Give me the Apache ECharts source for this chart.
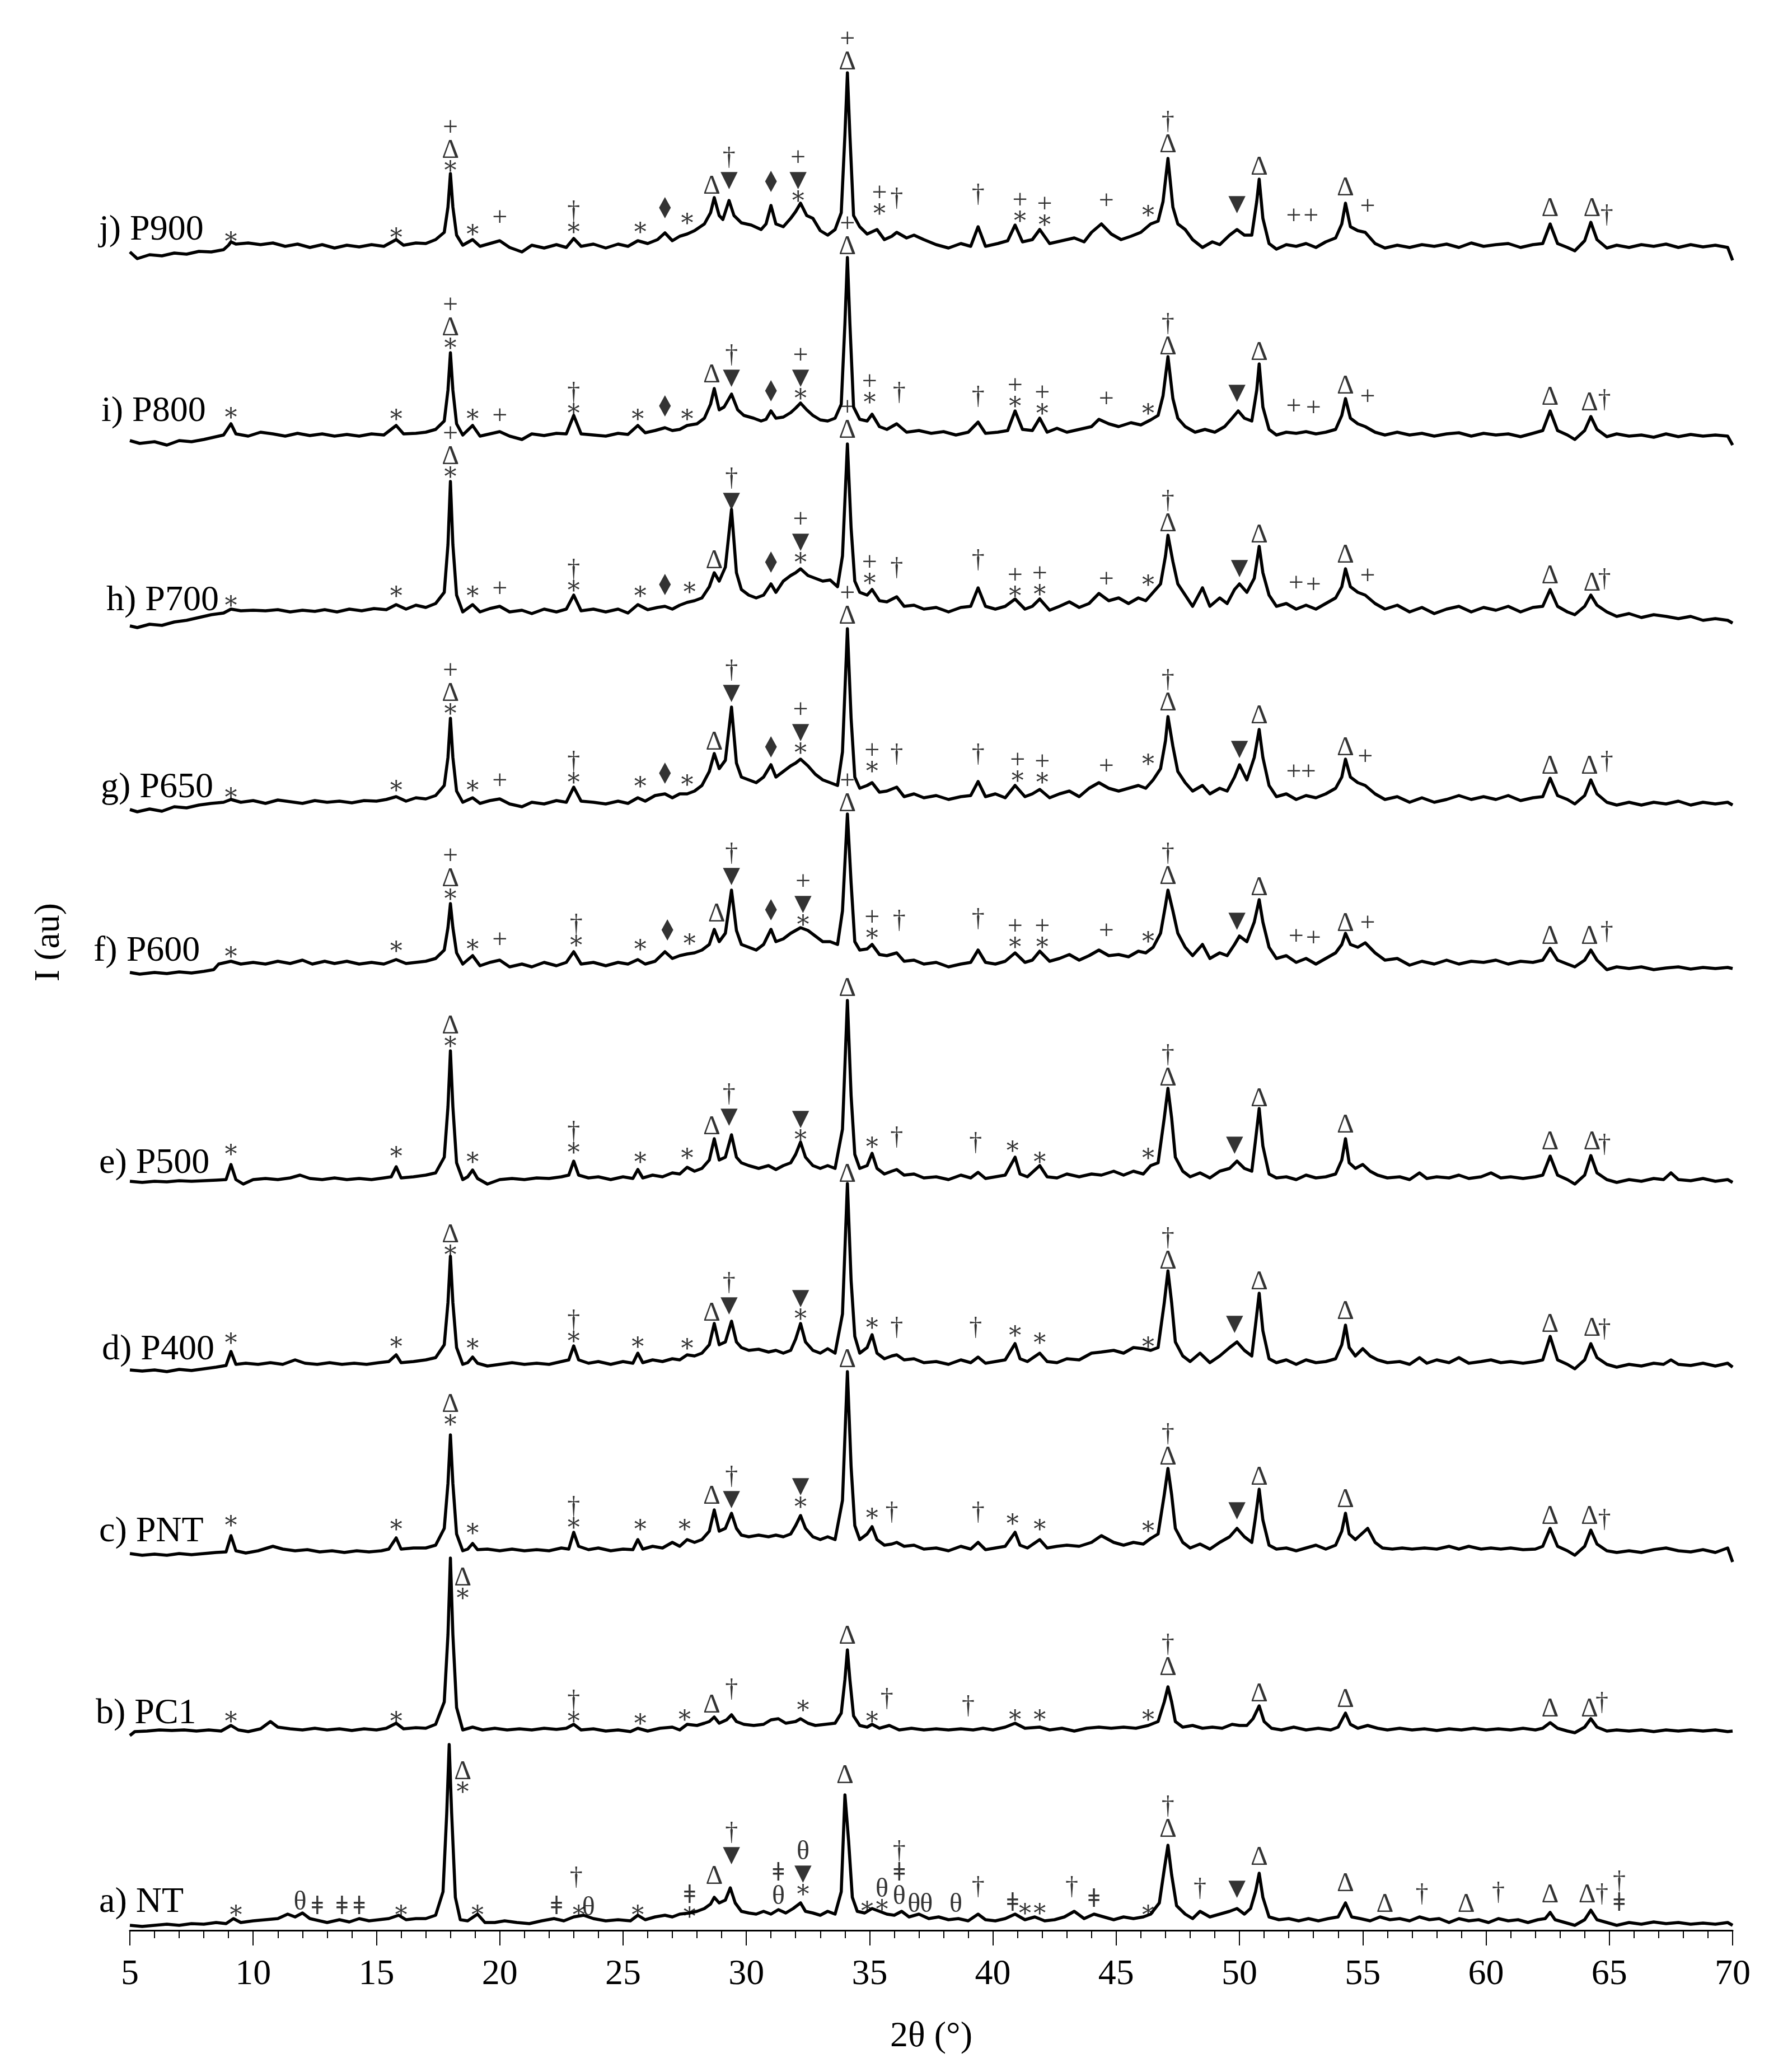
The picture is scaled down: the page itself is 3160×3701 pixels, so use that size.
<!DOCTYPE html>
<html><head><meta charset="utf-8">
<script src="https://cdn.jsdelivr.net/npm/echarts@6/dist/echarts.min.js"></script>
<style>html,body{margin:0;padding:0;background:#fff}#c{width:3160px;height:3701px}</style>
</head><body><div id="c"></div>
<script>
// ---- sample names (bottom to top) and vertical stacking offsets (arbitrary units) ----
const sampleNames = ['a) NT','b) PC1','c) PNT','d) P400','e) P500','f) P600','g) P650','h) P700','i) P800','j) P900'];
const stackOffsets = [9, 358, 678, 1011, 1341, 1721, 2015, 2355, 2671, 3008];
const xTickValues = [5,10,15,20,25,30,35,40,45,50,55,60,65,70];

// ---- diffractograms: flat [2theta, intensity(au)] pairs ----
const patNT = [5.0,0,5.5,-2,6.0,0,6.5,2,7.0,0,7.5,3,8.0,2,8.5,5,8.9,3,9.2,12,9.5,5,10.0,8,10.5,10,11.0,12,11.4,20,11.7,15,12.0,22,12.3,12,12.7,8,13.0,5,13.5,10,13.9,6,14.3,12,14.7,8,15.1,10,15.5,12,15.9,18,16.2,10,16.6,12,17.0,12,17.4,18,17.7,60,17.85,200,17.95,323,18.05,200,18.2,50,18.4,10,18.7,8,19.1,20,19.4,5,19.8,5,20.2,8,20.7,5,21.2,3,21.7,8,22.2,12,22.6,8,23.0,15,23.4,18,23.8,12,24.3,8,24.8,10,25.3,8,25.6,18,25.9,10,26.3,15,26.7,18,27.0,15,27.3,20,27.7,22,28.0,25,28.3,30,28.55,38,28.7,50,28.9,40,29.15,45,29.35,67,29.55,40,29.8,25,30.1,22,30.4,20,30.7,25,31.0,20,31.3,28,31.6,22,31.9,30,32.2,40,32.4,25,32.7,22,33.0,18,33.3,25,33.6,20,33.85,60,34.0,233,34.15,150,34.3,50,34.5,25,34.8,22,35.1,30,35.4,25,35.7,20,36.0,18,36.3,25,36.6,15,37.0,20,37.4,12,37.8,15,38.2,10,38.6,12,39.0,8,39.4,20,39.7,10,40.1,8,40.5,12,40.9,20,41.3,10,41.7,15,42.1,8,42.5,10,42.9,15,43.3,25,43.7,12,44.1,20,44.5,15,44.9,10,45.3,15,45.7,12,46.1,15,46.4,20,46.75,40,46.95,100,47.1,143,47.25,90,47.45,35,47.8,20,48.1,12,48.4,25,48.8,15,49.2,20,49.6,25,49.9,30,50.2,20,50.45,30,50.65,60,50.8,93,50.95,50,51.2,15,51.6,10,52.0,12,52.4,8,52.8,12,53.2,8,53.6,12,54.0,15,54.3,40,54.55,15,54.9,12,55.3,8,55.7,15,56.1,10,56.5,12,56.9,8,57.3,15,57.7,10,58.1,12,58.5,5,58.9,12,59.3,8,59.7,10,60.1,5,60.5,12,60.9,8,61.3,10,61.7,5,62.1,10,62.4,12,62.6,23,62.8,10,63.2,5,63.6,0,64.0,10,64.25,27,64.5,10,64.9,5,65.3,0,65.8,5,66.3,2,66.8,6,67.3,3,67.8,5,68.3,2,68.8,4,69.3,2,69.8,5,70.0,0];
const patPC1 = [5.0,-10,5.2,-3,5.7,-2,6.2,0,6.7,-1,7.2,0,7.7,-2,8.2,0,8.7,-2,9.1,8,9.4,0,9.8,-3,10.3,2,10.7,15,11.0,5,11.5,2,12.0,0,12.5,3,13.0,0,13.5,2,14.0,-1,14.5,2,15.0,0,15.4,3,15.8,12,16.1,2,16.6,4,17.0,3,17.4,10,17.75,50,17.9,170,18.0,307,18.1,170,18.25,40,18.5,0,18.9,5,19.3,0,19.8,3,20.3,0,20.8,2,21.3,0,21.8,3,22.3,1,22.7,3,23.0,10,23.3,0,23.8,2,24.3,-2,24.8,0,25.3,-3,25.6,3,26.0,-2,26.5,3,27.0,5,27.3,0,27.6,10,28.0,8,28.3,12,28.5,15,28.7,23,28.9,12,29.2,18,29.4,27,29.6,15,29.9,10,30.3,8,30.7,10,31.0,18,31.3,20,31.6,12,32.0,15,32.2,20,32.5,12,32.8,8,33.2,10,33.6,12,33.85,30,34.0,90,34.1,143,34.2,90,34.35,25,34.6,8,34.9,5,35.1,10,35.4,3,35.8,8,36.2,0,36.7,3,37.2,0,37.7,2,38.2,0,38.7,2,39.2,0,39.6,3,40.0,0,40.5,5,40.9,12,41.3,3,41.9,5,42.3,0,42.8,3,43.3,-2,43.8,3,44.3,5,44.8,3,45.3,5,45.8,3,46.3,8,46.7,15,46.95,50,47.1,77,47.25,50,47.4,15,47.7,5,48.1,8,48.5,3,48.9,5,49.3,3,49.7,10,50.0,8,50.3,8,50.55,20,50.8,43,51.0,15,51.3,3,51.7,0,52.2,5,52.7,0,53.2,3,53.7,0,54.0,5,54.3,30,54.5,10,54.8,3,55.2,8,55.6,3,56.0,0,56.5,3,57.0,0,57.5,2,58.0,-1,58.5,2,59.0,0,59.5,3,60.0,0,60.5,2,61.0,0,61.5,3,62.0,0,62.3,3,62.6,13,62.9,3,63.3,-2,63.6,-5,64.0,5,64.25,20,64.5,5,64.9,-2,65.3,0,65.8,-2,66.3,0,66.8,-3,67.3,0,67.8,-2,68.3,0,68.8,-2,69.3,0,69.8,-3,70.0,-2];
const patPNT = [5.0,-5,5.5,-8,6.0,-6,6.5,-8,7.0,-5,7.5,-7,8.0,-5,8.5,-3,8.9,-2,9.1,27,9.3,0,9.7,-4,10.2,0,10.8,8,11.2,3,11.7,0,12.2,2,12.7,-2,13.2,0,13.7,-3,14.2,0,14.7,-2,15.2,0,15.5,3,15.8,23,16.0,3,16.5,5,17.0,5,17.4,10,17.75,40,17.9,120,18.0,207,18.1,120,18.25,30,18.5,0,18.7,3,18.9,13,19.1,2,19.5,3,20.0,0,20.5,3,21.0,0,21.5,2,22.0,0,22.5,5,22.8,3,23.0,33,23.2,8,23.6,2,24.0,5,24.5,0,25.0,3,25.4,2,25.6,20,25.8,3,26.2,8,26.6,5,27.0,15,27.3,8,27.6,20,27.9,15,28.2,20,28.5,35,28.7,73,28.9,35,29.15,40,29.4,67,29.6,40,29.8,28,30.1,25,30.5,28,30.9,25,31.2,28,31.5,25,31.8,30,32.0,45,32.2,63,32.4,40,32.7,25,33.0,20,33.3,25,33.6,20,33.9,90,34.1,320,34.25,150,34.4,45,34.6,20,34.9,30,35.1,43,35.3,20,35.6,10,35.9,12,36.1,15,36.4,8,36.8,10,37.2,3,37.7,5,38.2,0,38.7,8,39.1,3,39.4,15,39.7,2,40.1,5,40.5,8,40.9,33,41.1,10,41.4,5,41.9,20,42.2,5,42.6,8,43.0,10,43.5,8,44.0,15,44.4,27,44.9,15,45.3,10,45.7,15,46.1,12,46.4,22,46.7,30,46.95,100,47.1,147,47.25,100,47.4,40,47.7,15,48.0,5,48.4,12,48.8,3,49.2,15,49.6,25,49.9,40,50.2,25,50.5,15,50.65,60,50.8,110,50.95,55,51.2,10,51.5,3,51.9,5,52.3,0,52.7,5,53.1,10,53.5,3,53.9,10,54.15,35,54.3,67,54.45,30,54.7,20,55.2,40,55.5,15,55.8,5,56.2,3,56.6,5,57.0,3,57.5,5,58.0,3,58.5,8,58.9,3,59.3,8,59.8,3,60.2,5,60.6,3,61.0,5,61.5,2,62.0,3,62.3,8,62.6,40,62.9,8,63.3,0,63.6,-8,64.0,8,64.25,37,64.5,12,64.9,0,65.3,-3,65.8,0,66.3,-3,66.8,2,67.3,5,67.8,0,68.3,-2,68.8,2,69.3,-3,69.8,5,70.0,-20];
const patP400 = [5.0,-10,5.5,-12,6.0,-10,6.5,-13,7.0,-9,7.5,-11,8.0,-8,8.5,-5,8.9,-2,9.1,23,9.3,0,9.7,2,10.2,0,10.7,3,11.2,0,11.7,8,12.1,2,12.6,0,13.1,3,13.6,0,14.1,2,14.6,0,15.1,3,15.5,5,15.8,17,16.0,3,16.5,5,17.0,8,17.4,12,17.75,35,17.9,110,18.0,193,18.1,110,18.25,30,18.5,0,18.7,3,18.9,13,19.1,2,19.5,-3,20.0,0,20.5,3,21.0,0,21.5,2,22.0,0,22.5,5,22.8,8,23.0,33,23.2,8,23.6,2,24.0,5,24.5,0,25.0,5,25.4,2,25.6,20,25.8,3,26.2,8,26.6,5,27.0,10,27.3,8,27.6,17,27.9,15,28.2,20,28.5,35,28.7,73,28.9,35,29.15,40,29.4,77,29.6,40,29.8,30,30.1,25,30.5,27,30.9,22,31.2,25,31.5,20,31.8,25,32.0,45,32.2,73,32.4,40,32.7,25,33.0,20,33.3,28,33.6,20,33.9,90,34.1,323,34.25,150,34.4,50,34.6,20,34.9,30,35.1,53,35.3,20,35.6,10,35.9,15,36.1,17,36.4,8,36.8,10,37.2,3,37.7,5,38.2,0,38.7,8,39.1,3,39.4,13,39.7,2,40.1,5,40.5,8,40.9,37,41.1,10,41.4,5,41.9,20,42.2,5,42.6,3,43.0,10,43.5,8,44.0,20,44.4,22,44.9,25,45.3,20,45.7,30,46.1,28,46.4,25,46.7,30,46.95,110,47.1,167,47.25,110,47.4,40,47.7,15,48.0,5,48.4,20,48.8,3,49.2,15,49.6,30,49.9,40,50.2,25,50.5,15,50.65,70,50.8,127,50.95,60,51.2,10,51.5,3,51.9,8,52.3,0,52.7,8,53.1,3,53.5,5,53.9,10,54.15,35,54.3,70,54.45,30,54.7,15,55.0,28,55.3,15,55.6,8,56.0,3,56.5,5,56.9,0,57.3,12,57.6,2,58.0,8,58.5,3,58.9,12,59.3,2,59.8,5,60.2,8,60.6,3,61.0,5,61.5,2,62.0,5,62.3,8,62.6,50,62.9,8,63.3,0,63.6,-8,64.0,8,64.25,37,64.5,12,64.9,0,65.3,-5,65.8,0,66.3,-3,66.8,2,67.2,0,67.5,8,67.8,0,68.3,-2,68.8,2,69.3,-3,69.8,2,70.0,-5];
const patP500 = [5.0,-3,5.5,-5,6.0,-3,6.5,-4,7.0,-2,7.5,-3,8.0,-2,8.5,-1,8.9,0,9.1,27,9.3,0,9.6,-8,10.0,0,10.5,2,11.0,0,11.5,3,11.9,8,12.3,2,12.8,0,13.3,3,13.8,0,14.3,2,14.8,0,15.3,3,15.6,5,15.8,23,16.0,3,16.5,5,17.0,8,17.4,12,17.75,40,17.9,130,18.0,230,18.1,130,18.25,30,18.5,0,18.7,5,18.9,17,19.1,2,19.5,-8,20.0,0,20.5,2,21.0,0,21.5,3,22.0,2,22.5,5,22.8,8,23.0,33,23.2,8,23.6,3,24.0,5,24.5,0,25.0,5,25.4,2,25.6,18,25.8,3,26.2,8,26.6,5,27.0,12,27.3,10,27.6,22,27.9,15,28.2,20,28.5,35,28.7,73,28.9,35,29.15,40,29.4,80,29.6,40,29.8,30,30.1,25,30.5,20,30.9,25,31.2,18,31.5,25,31.8,30,32.0,45,32.2,67,32.4,40,32.7,25,33.0,20,33.3,25,33.6,20,33.9,90,34.1,320,34.25,150,34.4,45,34.6,20,34.9,25,35.1,47,35.3,20,35.6,10,35.9,15,36.1,18,36.4,8,36.8,10,37.2,3,37.7,5,38.2,0,38.7,8,39.1,3,39.4,13,39.7,2,40.1,5,40.5,8,40.9,40,41.1,10,41.4,5,41.9,25,42.2,5,42.6,3,43.0,10,43.5,5,44.0,10,44.4,8,44.9,15,45.3,8,45.7,15,46.1,10,46.4,25,46.7,30,46.95,110,47.1,163,47.25,110,47.4,40,47.7,15,48.0,5,48.4,12,48.8,3,49.2,15,49.6,20,49.9,33,50.2,20,50.5,15,50.65,70,50.8,127,50.95,60,51.2,10,51.5,3,51.9,5,52.3,0,52.7,8,53.1,3,53.5,5,53.9,10,54.15,35,54.3,73,54.45,30,54.7,20,55.0,27,55.3,15,55.6,8,56.0,3,56.5,5,56.9,0,57.3,12,57.6,2,58.0,5,58.5,3,58.9,8,59.3,2,59.8,5,60.2,12,60.6,3,61.0,5,61.5,2,62.0,5,62.3,8,62.6,42,62.9,8,63.3,0,63.6,-8,64.0,8,64.25,43,64.5,12,64.9,0,65.3,-5,65.8,0,66.3,-3,66.8,2,67.2,0,67.5,12,67.8,0,68.3,-2,68.8,2,69.3,-3,69.8,0,70.0,-5];
const patP600 = [5.0,-10,5.4,-13,6.0,-10,6.5,-12,7.0,-9,7.5,-11,8.0,-8,8.4,-5,8.6,5,9.1,10,9.5,5,10.0,8,10.5,5,11.0,10,11.5,6,12.0,12,12.4,5,12.9,10,13.3,6,13.8,10,14.3,5,14.8,8,15.3,5,15.8,13,16.2,6,16.6,8,17.0,10,17.4,15,17.75,30,17.9,70,18.0,113,18.1,70,18.25,25,18.5,5,18.9,20,19.2,2,19.6,8,20.0,12,20.4,0,20.9,5,21.3,0,21.8,8,22.3,2,22.7,8,23.0,27,23.3,5,23.8,8,24.3,2,24.8,8,25.2,5,25.6,13,25.9,5,26.3,10,26.7,27,27.0,15,27.3,20,27.6,23,27.9,25,28.2,30,28.5,40,28.7,67,28.9,45,29.15,60,29.4,137,29.6,65,29.8,40,30.1,35,30.4,30,30.7,40,31.0,67,31.2,45,31.5,50,31.8,60,32.0,65,32.2,70,32.5,65,32.8,55,33.1,45,33.4,45,33.7,40,33.9,100,34.1,273,34.25,150,34.4,45,34.6,30,34.9,32,35.1,40,35.4,22,35.7,20,36.1,25,36.4,10,36.8,12,37.2,5,37.7,8,38.2,0,38.7,5,39.1,8,39.4,30,39.7,8,40.1,5,40.5,10,40.9,25,41.3,8,41.6,12,41.9,28,42.3,10,42.7,15,43.1,22,43.5,12,43.9,20,44.3,30,44.7,20,45.1,22,45.5,18,45.9,28,46.2,25,46.5,35,46.8,60,47.0,110,47.1,137,47.3,100,47.5,60,47.8,35,48.1,20,48.5,40,48.8,15,49.2,25,49.5,20,49.8,40,50.0,55,50.3,45,50.6,80,50.8,120,50.95,80,51.2,35,51.5,15,51.9,20,52.3,8,52.7,15,53.1,5,53.5,15,53.9,25,54.15,40,54.3,60,54.5,40,54.8,35,55.1,43,55.5,25,55.9,12,56.4,15,56.9,3,57.4,10,57.9,5,58.4,12,58.9,5,59.4,10,59.9,8,60.4,12,60.9,5,61.4,10,61.9,8,62.3,12,62.6,33,62.9,12,63.3,5,63.6,0,64.0,12,64.25,30,64.5,12,64.9,-5,65.3,0,65.8,-3,66.3,0,66.8,-5,67.3,-2,67.8,0,68.3,-4,68.8,-1,69.3,-3,69.8,-1,70.0,-3];
const patP650 = [5.0,-13,5.3,-17,5.8,-12,6.3,-16,6.8,-8,7.3,-10,7.8,-5,8.3,-2,8.8,0,9.1,5,9.5,0,10.0,3,10.5,-2,11.0,4,11.5,1,12.0,-2,12.5,3,13.0,0,13.5,2,14.0,-1,14.5,3,15.0,2,15.4,5,15.8,10,16.2,2,16.6,8,17.0,6,17.4,12,17.75,30,17.9,80,18.0,150,18.1,80,18.25,20,18.5,0,18.9,8,19.2,-2,19.6,3,20.0,6,20.4,-3,20.9,-8,21.3,0,21.8,-3,22.3,3,22.7,0,23.0,27,23.3,2,23.8,0,24.3,-3,24.8,2,25.2,-2,25.6,8,25.9,2,26.3,12,26.7,15,27.0,8,27.3,15,27.6,15,27.9,20,28.2,30,28.5,55,28.7,87,28.9,60,29.15,75,29.4,170,29.6,70,29.8,45,30.1,40,30.4,35,30.7,45,31.0,67,31.2,45,31.5,55,31.8,65,32.0,70,32.2,77,32.5,65,32.8,50,33.1,40,33.4,35,33.7,30,33.9,90,34.1,310,34.25,150,34.4,45,34.6,25,34.9,30,35.1,35,35.4,18,35.7,20,36.1,27,36.4,10,36.8,15,37.2,8,37.7,12,38.2,5,38.7,10,39.1,12,39.4,37,39.7,10,40.1,15,40.5,8,40.9,30,41.3,10,41.6,15,41.9,23,42.3,8,42.7,15,43.1,20,43.5,10,43.9,25,44.3,35,44.7,25,45.1,20,45.5,25,45.9,30,46.2,25,46.5,40,46.8,60,47.0,110,47.1,153,47.3,100,47.5,55,47.8,35,48.1,20,48.5,30,48.8,15,49.2,25,49.5,20,49.8,45,50.0,67,50.3,40,50.6,80,50.8,130,50.95,80,51.2,30,51.5,10,51.9,15,52.3,5,52.7,12,53.1,8,53.5,15,53.9,25,54.15,45,54.3,77,54.5,45,54.8,35,55.1,30,55.5,15,55.9,5,56.4,10,56.9,0,57.4,8,57.9,0,58.4,5,58.9,12,59.4,5,59.9,10,60.4,5,60.9,12,61.4,3,61.9,8,62.3,10,62.6,43,62.9,12,63.3,5,63.6,-3,64.0,12,64.25,40,64.5,15,64.9,0,65.3,-5,65.8,0,66.3,-5,66.8,0,67.3,-3,67.8,2,68.3,-5,68.8,0,69.3,-3,69.8,0,70.0,-5];
const patP700 = [5.0,-25,5.3,-28,5.8,-22,6.3,-24,6.8,-18,7.3,-15,7.8,-10,8.3,-5,8.8,-2,9.1,5,9.5,2,10.0,3,10.5,2,11.0,4,11.5,0,12.0,3,12.5,1,12.9,4,13.4,0,13.9,5,14.4,2,14.9,6,15.4,4,15.8,13,16.2,5,16.6,12,17.0,8,17.4,15,17.75,35,17.9,120,18.0,233,18.1,120,18.25,30,18.5,0,18.9,13,19.2,0,19.6,6,20.0,10,20.4,0,20.9,3,21.3,-3,21.8,5,22.3,0,22.7,5,23.0,30,23.3,2,23.8,5,24.3,0,24.8,5,25.2,-2,25.6,13,26.0,4,26.4,8,26.7,10,27.0,5,27.3,12,27.6,17,27.9,20,28.2,25,28.5,45,28.7,70,28.9,55,29.15,80,29.4,183,29.6,70,29.8,40,30.1,30,30.4,25,30.7,30,31.0,50,31.2,35,31.5,55,31.8,65,32.0,70,32.2,77,32.5,65,32.8,60,33.1,55,33.4,57,33.7,45,33.9,100,34.1,300,34.25,150,34.4,55,34.6,35,34.9,30,35.1,40,35.4,20,35.7,18,36.1,27,36.4,10,36.8,12,37.2,5,37.7,8,38.2,0,38.7,8,39.1,10,39.4,43,39.7,10,40.1,5,40.5,10,40.9,23,41.3,5,41.6,10,41.9,23,42.3,3,42.7,10,43.1,18,43.5,8,43.9,15,44.3,33,44.7,20,45.1,25,45.5,15,45.9,25,46.2,20,46.5,35,46.8,50,47.0,100,47.1,137,47.3,90,47.5,50,47.8,30,48.1,10,48.5,43,48.8,10,49.2,25,49.5,15,49.8,40,50.0,50,50.3,35,50.6,60,50.8,117,50.95,70,51.2,30,51.5,10,51.9,15,52.3,5,52.7,12,53.1,5,53.5,15,53.9,25,54.15,45,54.3,77,54.5,45,54.8,35,55.1,30,55.5,15,55.9,5,56.4,12,56.9,0,57.4,8,57.9,-3,58.4,5,58.9,10,59.4,0,59.9,8,60.4,3,60.9,10,61.4,0,61.9,8,62.3,10,62.6,40,62.9,10,63.3,0,63.6,-5,64.0,10,64.25,30,64.5,12,64.9,0,65.3,-8,65.8,-3,66.3,-10,66.8,-5,67.3,-8,67.8,-12,68.3,-8,68.8,-15,69.3,-12,69.8,-15,70.0,-20];
const patP800 = [5.0,-10,5.4,-15,6.0,-12,6.5,-18,7.0,-10,7.5,-12,8.0,-8,8.5,-3,8.8,0,9.1,20,9.3,2,9.8,-2,10.3,5,10.8,2,11.3,-2,11.8,3,12.3,-1,12.8,2,13.3,-2,13.8,1,14.3,-2,14.8,2,15.3,0,15.8,17,16.1,2,16.6,3,17.0,5,17.4,10,17.75,25,17.9,80,18.0,147,18.1,80,18.25,20,18.5,0,18.9,17,19.2,-2,19.6,2,20.0,6,20.4,-2,20.9,-8,21.3,2,21.8,-1,22.3,3,22.7,2,23.0,35,23.3,2,23.8,0,24.3,-2,24.8,3,25.2,1,25.6,17,25.9,4,26.3,8,26.7,13,27.0,8,27.3,10,27.6,17,28.0,20,28.3,30,28.55,55,28.7,83,28.9,45,29.1,50,29.4,73,29.65,45,29.9,35,30.3,30,30.6,25,30.8,28,31.0,43,31.2,30,31.5,32,31.8,40,32.0,48,32.2,57,32.45,45,32.7,35,33.0,27,33.3,25,33.6,30,33.85,55,34.0,200,34.1,317,34.2,200,34.35,50,34.6,28,34.9,25,35.1,37,35.4,15,35.7,10,36.1,20,36.5,5,37.0,8,37.5,3,38.0,6,38.5,0,39.0,5,39.4,23,39.7,3,40.2,5,40.6,8,40.9,43,41.2,10,41.6,8,41.9,30,42.2,5,42.6,12,43.0,5,43.5,10,44.0,15,44.3,28,44.7,20,45.1,15,45.6,22,46.0,18,46.4,27,46.7,35,46.9,70,47.1,140,47.3,65,47.5,30,47.8,15,48.2,5,48.6,10,49.0,5,49.4,15,49.7,30,49.95,43,50.2,30,50.5,25,50.7,80,50.8,127,50.95,50,51.2,10,51.5,0,51.9,5,52.3,3,52.7,6,53.1,2,53.5,5,53.9,10,54.15,35,54.3,65,54.5,30,54.8,20,55.1,15,55.5,5,55.9,0,56.4,5,56.9,0,57.4,3,57.9,-2,58.4,2,58.9,4,59.4,-2,59.9,3,60.4,0,60.9,2,61.4,-3,61.9,3,62.3,8,62.6,43,62.9,8,63.3,0,63.6,-8,64.0,8,64.25,33,64.5,10,64.9,-3,65.3,2,65.8,-2,66.3,0,66.8,-4,67.3,2,67.8,-3,68.3,1,68.8,-2,69.3,0,69.8,-2,70.0,-18];
const patP900 = [5.0,-10,5.3,-22,5.8,-15,6.3,-17,6.8,-12,7.3,-14,7.8,-9,8.3,-10,8.8,-6,9.0,2,9.1,8,9.3,4,9.8,6,10.3,3,10.8,6,11.3,0,11.8,4,12.3,-2,12.8,3,13.3,-3,13.8,2,14.3,-1,14.8,3,15.3,0,15.8,12,16.1,2,16.6,6,17.0,5,17.4,12,17.75,25,17.9,70,18.0,130,18.1,70,18.25,20,18.5,2,18.9,12,19.2,0,19.6,5,20.0,10,20.4,-2,20.9,-10,21.3,2,21.8,-3,22.3,3,22.7,-2,23.0,14,23.3,0,23.8,4,24.3,-3,24.8,4,25.2,0,25.6,10,26.0,5,26.4,12,26.7,24,27.0,10,27.3,18,27.6,22,27.9,28,28.3,40,28.55,60,28.7,87,28.9,55,29.05,48,29.3,82,29.5,55,29.8,42,30.2,38,30.6,30,30.8,40,31.0,73,31.2,40,31.5,35,31.8,50,32.0,62,32.2,77,32.45,55,32.7,50,33.0,28,33.3,20,33.6,30,33.85,60,34.0,200,34.1,310,34.2,200,34.35,55,34.6,35,34.9,22,35.3,30,35.6,12,35.9,18,36.1,25,36.5,15,36.8,20,37.2,12,37.7,3,38.2,-3,38.7,5,39.1,0,39.4,35,39.7,0,40.2,5,40.6,10,40.9,38,41.2,8,41.6,12,41.9,30,42.3,5,42.8,10,43.3,15,43.7,8,44.0,25,44.4,40,44.8,22,45.2,12,45.6,18,46.0,25,46.4,40,46.7,45,46.9,80,47.1,157,47.3,70,47.5,40,47.8,30,48.1,12,48.5,-2,48.9,8,49.2,3,49.6,20,49.9,30,50.2,20,50.5,20,50.7,80,50.8,120,50.95,50,51.2,5,51.5,-5,51.9,3,52.3,0,52.7,5,53.1,-2,53.5,8,53.9,15,54.15,40,54.3,77,54.5,35,54.8,28,55.1,25,55.5,5,55.9,-3,56.4,2,56.9,-2,57.4,3,57.9,0,58.4,4,58.9,-2,59.4,6,59.9,0,60.4,3,60.9,5,61.4,-2,61.9,3,62.3,5,62.6,40,62.9,5,63.3,-2,63.6,-8,64.0,10,64.25,43,64.5,12,64.9,-3,65.3,2,65.8,-2,66.3,3,66.8,0,67.3,4,67.8,-2,68.3,3,68.8,-1,69.3,2,69.8,-2,70.0,-25];

// ---- phase markers: [2theta, level above trace (au), symbols stacked top->bottom] ----
const annNT = [[9.3,20,'*'],[11.9,27,'θ'],[12.6,17,'ǂ'],[13.6,17,'ǂ'],[14.3,17,'ǂ'],[16.0,20,'*'],[18.5,240,'Δ\n*'],[19.1,20,'*'],[22.3,17,'ǂ'],[23.1,70,'†'],[23.2,20,'*'],[23.6,17,'θ'],[25.6,20,'*'],[27.7,17,'ǂ\n*'],[28.7,73,'Δ'],[29.4,110,'†\n▼'],[31.3,37,'ǂ\nθ'],[32.3,57,'θ\n▼\n*'],[34.0,253,'Δ'],[34.9,27,'*'],[35.5,30,'θ\n*'],[36.2,37,'†\nǂ\nθ'],[36.8,23,'θ'],[37.3,23,'θ'],[38.5,23,'θ'],[39.4,53,'†'],[40.8,23,'ǂ'],[41.3,23,'*'],[41.9,23,'*'],[43.2,53,'†'],[44.1,30,'ǂ'],[46.3,20,'*'],[47.1,157,'†\nΔ'],[48.4,50,'†'],[49.9,50,'▼'],[50.8,107,'Δ'],[54.3,60,'Δ'],[55.9,23,'Δ'],[57.4,40,'†'],[59.2,23,'Δ'],[60.5,43,'†'],[62.6,40,'Δ'],[64.1,40,'Δ'],[64.7,40,'†'],[65.4,23,'†\nǂ']];
const annPC1 = [[9.1,17,'*'],[15.8,17,'*'],[18.5,237,'Δ\n*'],[23.0,17,'†\n*'],[25.7,13,'*'],[27.5,20,'*'],[28.6,30,'Δ'],[29.4,57,'†'],[32.3,37,'*'],[34.1,153,'Δ'],[35.1,17,'*'],[35.7,40,'†'],[39.0,27,'†'],[40.9,20,'*'],[41.9,20,'*'],[46.3,20,'*'],[47.1,97,'†\nΔ'],[50.8,50,'Δ'],[54.3,40,'Δ'],[62.6,23,'Δ'],[64.2,23,'Δ'],[64.7,33,'†']];
const annPNT = [[9.1,47,'*'],[15.8,40,'*'],[18.0,227,'Δ\n*'],[18.9,33,'*'],[23.0,43,'†\n*'],[25.7,40,'*'],[27.5,40,'*'],[28.6,83,'Δ'],[29.4,77,'†\n▼'],[32.2,80,'▼\n*'],[34.1,327,'Δ'],[35.1,60,'*'],[35.9,53,'†'],[39.4,53,'†'],[40.8,50,'*'],[41.9,40,'*'],[46.3,37,'*'],[47.1,153,'†\nΔ'],[49.9,57,'▼'],[50.8,117,'Δ'],[54.3,77,'Δ'],[62.6,47,'Δ'],[64.2,47,'Δ'],[64.8,40,'†']];
const annP400 = [[9.1,40,'*'],[15.8,33,'*'],[18.0,197,'Δ\n*'],[18.9,30,'*'],[23.0,43,'†\n*'],[25.6,33,'*'],[27.6,30,'*'],[28.6,77,'Δ'],[29.3,90,'†\n▼'],[32.2,83,'▼\n*'],[34.1,325,'Δ'],[35.1,67,'*'],[36.1,50,'†'],[39.3,50,'†'],[40.9,53,'*'],[41.9,40,'*'],[46.3,33,'*'],[47.1,170,'†\nΔ'],[49.8,57,'▼'],[50.8,133,'Δ'],[54.3,80,'Δ'],[62.6,57,'Δ'],[64.3,50,'Δ'],[64.8,47,'†']];
const annP500 = [[9.1,47,'*'],[15.8,43,'*'],[18.0,240,'Δ\n*'],[18.9,33,'*'],[23.0,50,'†\n*'],[25.7,33,'*'],[27.6,40,'*'],[28.6,80,'Δ'],[29.3,97,'†\n▼'],[32.2,73,'▼\n*'],[34.1,327,'Δ'],[35.1,60,'*'],[36.1,60,'†'],[39.3,50,'†'],[40.8,53,'*'],[41.9,33,'*'],[46.3,40,'*'],[47.1,167,'†\nΔ'],[49.8,47,'▼'],[50.8,130,'Δ'],[54.3,83,'Δ'],[62.6,53,'Δ'],[64.3,53,'Δ'],[64.8,47,'†']];
const annP600 = [[9.1,20,'*'],[15.8,30,'*'],[18.0,123,'+\nΔ\n*'],[18.9,33,'*'],[20.0,37,'+'],[23.1,40,'†\n*'],[25.7,33,'*'],[26.8,47,'♦'],[27.7,43,'*'],[28.8,80,'Δ'],[29.4,147,'†\n▼'],[31.0,83,'♦'],[32.3,77,'+\n▼\n*'],[34.1,277,'+\nΔ'],[35.1,53,'+\n*'],[36.2,67,'†'],[39.4,70,'†'],[40.9,37,'+\n*'],[42.0,37,'+\n*'],[44.6,53,'+'],[46.3,47,'*'],[47.1,147,'†\nΔ'],[49.9,67,'▼'],[50.8,127,'Δ'],[52.3,43,'+'],[53.0,40,'+'],[54.3,63,'Δ'],[55.2,67,'+'],[62.6,40,'Δ'],[64.2,40,'Δ'],[64.9,47,'†']];
const annP650 = [[9.1,10,'*'],[15.8,23,'*'],[18.0,160,'+\nΔ\n*'],[18.9,23,'*'],[20.0,27,'+'],[23.0,37,'†\n*'],[25.7,30,'*'],[26.7,33,'♦'],[27.6,33,'*'],[28.7,93,'Δ'],[29.4,180,'†\n▼'],[31.0,80,'♦'],[32.2,90,'+\n▼\n*'],[34.1,318,'+\nΔ'],[35.1,57,'+\n*'],[36.1,70,'†'],[39.4,70,'†'],[41.0,40,'+\n*'],[42.0,37,'+\n*'],[44.6,53,'+'],[46.3,70,'*'],[47.1,163,'†\nΔ'],[50.0,80,'▼'],[50.8,140,'Δ'],[52.2,43,'+'],[52.8,43,'+'],[54.3,83,'Δ'],[55.1,70,'+'],[62.6,50,'Δ'],[64.2,50,'Δ'],[64.9,57,'†']];
const annP700 = [[9.1,13,'*'],[15.8,30,'*'],[18.0,243,'+\nΔ\n*'],[18.9,30,'*'],[20.0,30,'+'],[23.0,40,'†\n*'],[25.7,30,'*'],[26.7,30,'♦'],[27.7,37,'*'],[28.7,77,'Δ'],[29.4,183,'†\n▼'],[31.0,70,'♦'],[32.2,90,'+\n▼\n*'],[34.1,310,'+\nΔ'],[35.0,53,'+\n*'],[36.1,63,'†'],[39.4,77,'†'],[40.9,30,'+\n*'],[41.9,33,'+\n*'],[44.6,47,'+'],[46.3,50,'*'],[47.1,143,'†\nΔ'],[50.0,63,'▼'],[50.8,123,'Δ'],[52.3,40,'+'],[53.0,37,'+'],[54.3,87,'Δ'],[55.2,53,'+'],[62.6,50,'Δ'],[64.3,37,'Δ'],[64.8,43,'†']];
const annP800 = [[9.1,33,'*'],[15.8,30,'*'],[18.0,157,'+\nΔ\n*'],[18.9,30,'*'],[20.0,23,'+'],[23.0,40,'†\n*'],[25.6,30,'*'],[26.7,33,'♦'],[27.6,30,'*'],[28.6,93,'Δ'],[29.4,87,'†\n▼'],[31.0,60,'♦'],[32.2,67,'+\n▼\n*'],[34.1,322,'+\nΔ'],[35.0,60,'+\n*'],[36.2,60,'†'],[39.4,53,'†'],[40.9,53,'+\n*'],[42.0,40,'+\n*'],[44.6,53,'+'],[46.3,40,'*'],[47.1,143,'†\nΔ'],[49.9,60,'▼'],[50.8,133,'Δ'],[52.2,40,'+'],[53.0,37,'+'],[54.3,73,'Δ'],[55.2,57,'+'],[62.6,53,'Δ'],[64.2,43,'Δ'],[64.8,47,'†']];
const annP900 = [[9.1,10,'*'],[15.8,17,'*'],[18.0,137,'+\nΔ\n*'],[18.9,23,'*'],[20.0,40,'+'],[23.0,27,'†\n*'],[25.7,27,'*'],[26.7,50,'♦'],[27.6,43,'*'],[28.6,93,'Δ'],[29.3,103,'†\n▼'],[31.0,97,'♦'],[32.1,83,'+\n▼\n*'],[34.1,315,'+\nΔ'],[35.4,60,'+\n*'],[36.1,70,'†'],[39.4,77,'†'],[41.1,47,'+\n*'],[42.1,40,'+\n*'],[44.6,70,'+'],[46.3,57,'*'],[47.1,167,'†\nΔ'],[49.9,60,'▼'],[50.8,127,'Δ'],[52.2,43,'+'],[52.9,43,'+'],[54.3,90,'Δ'],[55.2,60,'+'],[62.6,53,'Δ'],[64.3,53,'Δ'],[64.9,40,'†']];

const patterns = [patNT, patPC1, patPNT, patP400, patP500, patP600, patP650, patP700, patP800, patP900];
const markers = [annNT, annPC1, annPNT, annP400, annP500, annP600, annP650, annP700, annP800, annP900];

// ---- layout / style ----
const FONT = '"Liberation Serif","DejaVu Serif",serif';
const labelPos = [[177,3398],[171,3061],[177,2736],[182,2411],[177,2078],[167,1699],[180,1407],[190,1073],[181,735],[177,411]];
const glyphShift = {'*': -26, '+': -10};
const richKey = {'*': 's', '+': 'p', 'Δ': 't', '†': 'g', '▼': 'v', 'θ': 'h', 'ǂ': 'b'};
const LH = 40;
const rich = {
  s: { fontFamily: '"DejaVu Serif",serif', fontSize: 44, lineHeight: LH, color: '#000' },
  p: { fontFamily: FONT, fontSize: 48, lineHeight: LH, color: '#000' },
  t: { fontFamily: FONT, fontSize: 48, lineHeight: LH, color: '#000' },
  g: { fontFamily: FONT, fontSize: 46, lineHeight: LH, color: '#000' },
  v: { fontFamily: '"DejaVu Sans",sans-serif', fontSize: 40, lineHeight: LH, color: '#000' },
  h: { fontFamily: FONT, fontSize: 48, lineHeight: LH, color: '#000' },
  b: { fontFamily: '"DejaVu Serif",serif', fontSize: 44, lineHeight: LH, color: '#000' }
};
function toRich(txt) {
  return txt.split('\n').map(line => line.split('').map(c => '{' + (richKey[c] || 't') + '|' + c + '}').join('')).join('\n');
}
function pairs(flat, off) {
  const out = [];
  for (let i = 0; i < flat.length; i += 2) out.push([flat[i], flat[i + 1] + off]);
  return out;
}

const series = [];
patterns.forEach((p, k) => {
  series.push({
    type: 'line', name: sampleNames[k], data: pairs(p, stackOffsets[k]),
    showSymbol: false, smooth: false, silent: true,
    lineStyle: { color: '#000', width: 5.5, join: 'round' }, z: 2
  });
});
markers.forEach((arr, k) => {
  const textItems = arr.filter(a => a[2] !== '♦');
  const diamondItems = arr.filter(a => a[2] === '♦');
  series.push({
    type: 'scatter', name: sampleNames[k] + ' markers', symbolSize: 0, silent: true, z: 5,
    data: textItems.map(a => {
      const last = a[2].charAt(a[2].length - 1);
      return { value: [a[0], stackOffsets[k] + a[1] + (glyphShift[last] || -6)], txt: toRich(a[2]) };
    }),
    label: {
      show: true, position: 'top', distance: 0, color: '#000',
      fontFamily: FONT, fontSize: 46, lineHeight: LH, align: 'center',
      formatter: p => p.data.txt, rich: rich
    }
  });
  if (diamondItems.length) {
    series.push({
      type: 'scatter', name: sampleNames[k] + ' ♦', symbol: 'diamond', symbolSize: [21, 38],
      symbolOffset: [0, -19], silent: true, z: 5,
      itemStyle: { color: '#000' },
      data: diamondItems.map(a => [a[0], stackOffsets[k] + a[1]])
    });
  }
});

const graphics = sampleNames.map((n, k) => ({
  type: 'text', x: labelPos[k][0], y: labelPos[k][1], z: 10,
  style: { text: n, font: '64px ' + FONT, fill: '#000', align: 'left', verticalAlign: 'middle' }
}));
graphics.push({
  type: 'text', x: 88, y: 1683, rotation: Math.PI / 2, z: 10,
  style: { text: 'I (au)', font: '64px ' + FONT, fill: '#000', align: 'center', verticalAlign: 'middle' }
});

const chart = echarts.init(document.getElementById('c'), null, { renderer: 'canvas' });
chart.setOption({
  animation: false,
  backgroundColor: '#fff',
  grid: { left: 232, right: 65, top: 100, bottom: 253, containLabel: false },
  xAxis: {
    type: 'value', min: 5, max: 70, interval: 5,
    name: '2θ (°)', nameLocation: 'middle', nameGap: 158,
    nameTextStyle: { fontFamily: FONT, fontSize: 64, color: '#000' },
    axisLine: { show: true, lineStyle: { color: '#000', width: 3 } },
    axisTick: { show: true, inside: false, length: 27, lineStyle: { color: '#000', width: 2 } },
    minorTick: { show: true, splitNumber: 5, length: 14, lineStyle: { color: '#000', width: 2 } },
    splitLine: { show: false }, minorSplitLine: { show: false },
    axisLabel: { fontFamily: FONT, fontSize: 64, color: '#000', margin: 47,
      formatter: v => xTickValues.indexOf(v) >= 0 ? String(v) : '' }
  },
  yAxis: { type: 'value', min: 0, max: 3348, show: false },
  series: series,
  graphic: graphics
});
</script></body></html>
